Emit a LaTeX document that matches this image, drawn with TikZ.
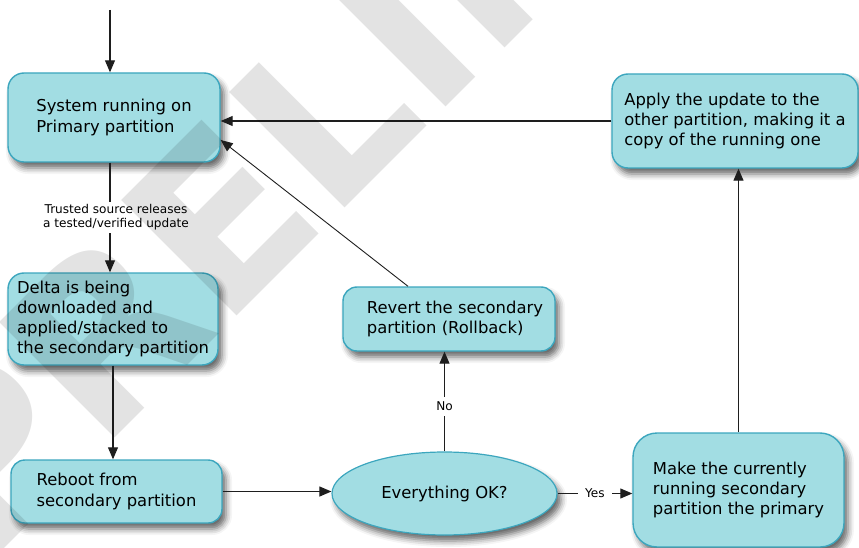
\documentclass[tikz,border=0pt]{standalone}
\usepackage{fontspec}
\setmainfont{DejaVu Sans}
\usetikzlibrary{shapes.geometric,arrows.meta,shadows.blur}

\definecolor{boxfill}{RGB}{162,221,227}
\definecolor{boxline}{RGB}{60,166,190}
\definecolor{wire}{RGB}{30,30,30}

\tikzset{
  softshadow/.style={blur shadow={shadow xshift=4pt, shadow yshift=-6pt,
      shadow blur radius=6pt, shadow opacity=60}},
  stepbox/.style={draw=boxline, fill=boxfill, line width=1.4pt,
      rounded corners=16pt, align=left, inner sep=0pt,
      font=\fontsize{16.4}{20.3}\selectfont, softshadow},
  decision/.style={ellipse, draw=boxline, fill=boxfill, line width=1.2pt,
      inner sep=0pt, font=\fontsize{16.4}{20.3}\selectfont, softshadow},
  arr/.style={draw=wire, line width=1.1pt, -{Triangle[length=12pt,width=10pt]}},
  edgelabel/.style={fill=white, font=\fontsize{12.1}{14}\selectfont,
      align=center, inner sep=3pt},
  watermark/.style={anchor=base west, rotate=45, inner sep=0pt, text=black,
      text opacity=0.11, font=\fontsize{224}{224}\bfseries\selectfont}
}

\begin{document}
\begin{tikzpicture}[x=1pt, y=-1pt]
  \useasboundingbox (0,0) rectangle (859,548);
  \clip (0,0) rectangle (859,548);

  % states
  \node[stepbox, minimum width=212pt, minimum height=89pt] (sys) at (114,117.5)
    {System running on\\Primary partition};
  \node[stepbox, minimum width=210pt, minimum height=92pt] (delta) at (113,319)
    {Delta is being\\downloaded and\\applied/stacked to\\the secondary partition};
  \node[stepbox, minimum width=211pt, minimum height=63pt, rounded corners=14pt] (reboot) at (116.5,491.5)
    {Reboot from\\secondary partition};
  \node[decision, minimum width=225pt, minimum height=83pt] (ok) at (444.5,493.5)
    {Everything OK?};
  \node[stepbox, minimum width=212pt, minimum height=64pt, rounded corners=14pt] (revert) at (449,319)
    {\hspace*{12pt}Revert the secondary\\\hspace*{12pt}partition (Rollback)};
  \node[stepbox, minimum width=211pt, minimum height=114pt, rounded corners=24pt] (make) at (738.5,490)
    {Make the currently\\running secondary\\partition the primary};
  \node[stepbox, minimum width=246pt, minimum height=94pt] (apply) at (735,121)
    {Apply the update to the\\other partition, making it a\\copy of the running one};

  \coordinate (entry) at (110,10);

  % transitions
  \draw[arr] (entry) -- (entry |- sys.north);
  \draw[arr] (sys.south -| entry) --
    node[edgelabel, xshift=6pt] {Trusted source releases\\a tested/verified update}
    (delta.north -| entry);
  \draw[arr] (delta.south) -- (delta.south |- reboot.north);
  \draw[arr] (reboot.east) -- (reboot.east -| ok.west);
  \draw[arr] (ok.north) -- node[edgelabel, pos=0.45, inner ysep=5pt] {No} (ok.north |- revert.south);
  \draw[arr] (ok.east) -- node[edgelabel, inner xsep=7pt] {Yes} (ok.east -| make.west);
  \draw[arr] (make.north) -- (make.north |- apply.south);
  \draw[arr] (apply.west) -- (apply.west -| sys.east);
  \draw[arr, line width=0.9pt] ([xshift=-41pt]revert.north) -- ([yshift=-22.5pt]sys.east);

  % draft stamp across the sheet
  \node[watermark] (stamp) at (-16,569) {PRELIMINARY};
\end{tikzpicture}
\end{document}
